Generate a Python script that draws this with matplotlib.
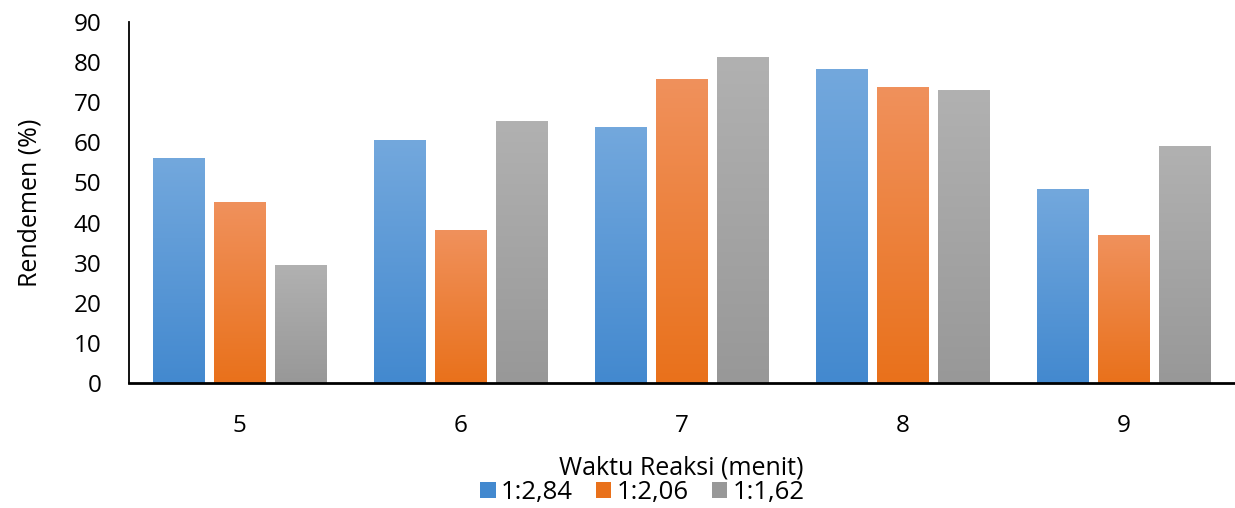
import matplotlib
matplotlib.use("Agg")
import matplotlib.pyplot as plt
import matplotlib.patches as mpatches
import numpy as np
from matplotlib.colors import LinearSegmentedColormap

plt.rcParams["font.family"] = ["Open Sans", "DejaVu Sans"]

WAKTU = ["5", "6", "7", "8", "9"]
SERIES = ["1:2,84", "1:2,06", "1:1,62"]
RENDEMEN = [
    [55.9, 60.4, 63.6, 78.0, 48.1],
    [44.9, 38.1, 75.6, 73.6, 36.7],
    [29.4, 65.1, 81.0, 72.8, 58.9],
]
# (top, bottom) colours of each gradient fill
GRADIENTS = [
    ("#73a8dd", "#4389cf"),
    ("#f0915c", "#e9711b"),
    ("#b1b1b1", "#989898"),
]

BAR_W = 0.231
STEP = 0.278

fig = plt.figure(figsize=(12.35, 5.08), dpi=100)
ax = fig.add_axes([0.1045, 0.246, 0.8947, 0.711])

x = np.arange(len(WAKTU))
grad = np.linspace(0, 1, 256).reshape(-1, 1)

for i, (vals, (top, bottom)) in enumerate(zip(RENDEMEN, GRADIENTS)):
    cmap = LinearSegmentedColormap.from_list(f"g{i}", [bottom, top])
    pos = x + (i - 1) * STEP
    bars = ax.bar(pos, vals, BAR_W, color="none", edgecolor="none")
    for b in bars:
        x0, y0 = b.get_x(), b.get_y()
        ax.imshow(grad, cmap=cmap, origin="lower", aspect="auto",
                  extent=[x0, x0 + b.get_width(), y0, y0 + b.get_height()],
                  zorder=2)

ax.set_xlim(-0.5, len(WAKTU) - 0.5)
ax.set_ylim(0, 90)
ax.set_yticks(range(0, 91, 10))
ax.set_xticks(x)
ax.set_xticklabels(WAKTU)
ax.tick_params(axis="both", length=0, labelsize=17.5)
ax.tick_params(axis="y", pad=20)
ax.tick_params(axis="x", pad=22)

for s in ["top", "right"]:
    ax.spines[s].set_visible(False)
ax.spines["left"].set_linewidth(1.3)
ax.spines["bottom"].set_linewidth(2)

ax.set_ylabel("Rendemen (%)", fontsize=18, labelpad=22)
ax.set_xlabel("Waktu Reaksi (menit)", fontsize=18, labelpad=13)

handles = [mpatches.Patch(facecolor=g[1], label=s) for s, g in zip(SERIES, GRADIENTS)]
fig.legend(handles=handles, loc="center", bbox_to_anchor=(0.52, 0.031),
           ncol=3, frameon=False, fontsize=18.5, handlelength=0.6,
           handleheight=0.6, handletextpad=0.2, columnspacing=0.9)

fig.savefig("out.png", dpi=100)
